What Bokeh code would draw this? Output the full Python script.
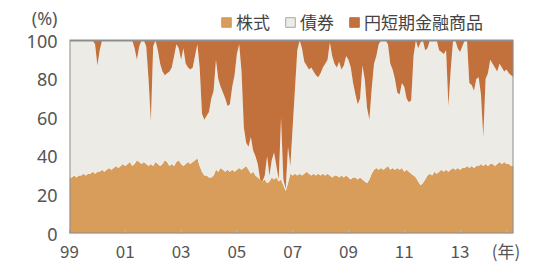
from bokeh.plotting import figure
from bokeh.models import (ColumnDataSource, Range1d, FixedTicker, Legend,
                          LegendItem, BoxAnnotation)
from bokeh.embed import file_html
from bokeh.resources import INLINE

# Monthly shares (%), Jan 1999 - Dec 2014
start_year = 1999
n_months = 192

stocks = [
    29, 29, 30, 29, 30, 30, 31, 30, 31, 31, 32, 31,
    32, 32, 33, 32, 33, 34, 33, 34, 35, 34, 35, 36,
    35, 36, 37, 35, 36, 38, 37, 36, 37, 36, 35, 36,
    35, 37, 36, 35, 36, 38, 37, 35, 36, 35, 37, 38,
    36, 35, 36, 37, 36, 37, 38, 39, 35, 32, 30, 30,
    29, 29, 30, 33, 32, 34, 33, 32, 33, 32, 33, 32,
    33, 34, 33, 34, 35, 33, 31, 32, 30, 29, 28, 27,
    28, 26, 27, 29, 28, 29, 27, 28, 25, 22, 26, 31,
    30, 31, 30, 31, 30, 31, 32, 31, 30, 31, 30, 31,
    30, 31, 30, 31, 30, 29, 30, 30, 29, 30, 29, 30,
    29, 28, 29, 29, 28, 29, 28, 27, 26, 28, 31, 33,
    34, 33, 34, 33, 34, 35, 33, 34, 33, 34, 33, 34,
    32, 33, 32, 31, 30, 29, 27, 25, 26, 28, 30, 31,
    30, 32, 31, 32, 33, 32, 33, 32, 33, 34, 33, 34,
    33, 34, 34, 35, 34, 35, 34, 35, 35, 36, 35, 36,
    35, 36, 36, 35, 36, 37, 36, 37, 36, 36, 35, 35,
]

money = [
    0, 0, 0, 0, 0, 0, 0, 0, 0, 0, 0, 2,
    13, 5, 0, 0, 0, 0, 0, 0, 0, 0, 0, 0,
    0, 0, 0, 0, 4, 10, 3, 0, 0, 3, 20, 42,
    3, 0, 5, 12, 16, 18, 17, 16, 14, 8, 2, 4,
    10, 4, 12, 14, 15, 14, 8, 2, 14, 38, 41, 39,
    37, 30, 26, 10, 20, 24, 27, 30, 34, 33, 24, 18,
    7, 2, 16, 45, 53, 55, 50, 57, 60, 64, 72, 73,
    70, 60, 70, 62, 58, 65, 72, 40, 72, 77, 55, 65,
    45, 25, 5, 0, 4, 11, 13, 15, 14, 16, 18, 19,
    17, 14, 12, 10, 1, 8, 12, 14, 11, 15, 13, 8,
    10, 14, 22, 28, 33, 30, 13, 20, 35, 41, 25, 12,
    8, 2, 0, 0, 0, 2, 12, 15, 20, 27, 28, 22,
    24, 30, 32, 31, 8, 0, 4, 1, 0, 5, 4, 0,
    0, 0, 0, 5, 6, 7, 5, 34, 15, 0, 0, 4,
    6, 3, 0, 0, 22, 23, 26, 20, 19, 28, 50, 20,
    17, 10, 12, 14, 16, 12, 14, 16, 15, 17, 18, 19,
]

series_names = ["株式", "債券", "円短期金融商品"]
series_colors = ["#D89C5B", "#ECEBE5", "#C2703C"]
legend_edges = ["#D89C5B", "#A8A8A0", "#C2703C"]

tick_years = [1999, 2001, 2003, 2005, 2007, 2009, 2011, 2013]
tick_labels = ["99", "01", "03", "05", "07", "09", "11", "13"]
unit_x_label = "(年)"
unit_y_label = "(%)"
y_ticks = [0, 20, 40, 60, 80, 100]
y_max = 100

assert len(stocks) == n_months and len(money) == n_months

x = [start_year + i / 12 for i in range(n_months)]
bonds = [max(0, 100 - s - m) for s, m in zip(stocks, money)]
source = ColumnDataSource(dict(x=x, stocks=stocks, bonds=bonds, money=money))

num_font = "Noto Sans"
jp_font = "Noto Sans CJK JP"
text_col = "#555555"
frame_col = "#8e8e8e"

px_per_unit = 1.93          # vertical scale of the plot area
frame_h = 225               # plot area incl. a header band for legend
y_top = frame_h / px_per_unit

p = figure(
    frame_width=444, frame_height=frame_h,
    min_border_left=69, min_border_right=27, min_border_top=8, min_border_bottom=27,
    x_range=Range1d(start_year, x[-1]), y_range=Range1d(0, y_top),
    output_backend="svg", toolbar_location=None,
)
p.background_fill_color = "#ffffff"
p.border_fill_color = "#ffffff"
p.outline_line_color = None
p.xgrid.visible = False
p.ygrid.visible = False

areas = p.varea_stack(stackers=["stocks", "bonds", "money"], x="x",
                      color=series_colors, source=source)

# frame border around the 0-100 area
p.add_layout(BoxAnnotation(bottom=0, top=y_max, fill_alpha=0, fill_color=None,
                           line_color=frame_col, line_width=2, line_alpha=1.0))

# x axis
unit_tick = 2014.65
p.xaxis.ticker = FixedTicker(ticks=tick_years + [unit_tick])
overrides = {yr: lab for yr, lab in zip(tick_years, tick_labels)}
overrides[unit_tick] = unit_x_label
p.xaxis.major_label_overrides = overrides
p.xaxis.major_label_text_font = jp_font
p.xaxis.major_label_text_font_size = "17px"
p.xaxis.major_label_text_color = text_col
p.xaxis.major_label_standoff = 4
p.xaxis.major_tick_in = 4
p.xaxis.major_tick_out = 0
p.xaxis.major_tick_line_color = "#c8b49a"
p.xaxis.minor_tick_line_color = None
p.xaxis.axis_line_color = None

# y axis (the unit label sits as an extra tick label above 100)
unit_y_pos = 111.4
p.yaxis.ticker = FixedTicker(ticks=y_ticks + [unit_y_pos])
p.yaxis.major_label_overrides = {unit_y_pos: unit_y_label}
p.yaxis.major_label_text_font = num_font
p.yaxis.major_label_text_font_size = "18px"
p.yaxis.major_label_text_color = text_col
p.yaxis.major_label_standoff = 6
p.yaxis.major_tick_line_color = None
p.yaxis.minor_tick_line_color = None
p.yaxis.axis_line_color = None

# legend swatches (renderers with one NaN point: used only for legend glyphs)
nan = float("nan")
items = []
for name, fc, lc in zip(series_names, series_colors, legend_edges):
    r = p.quad(left=[nan], right=[nan], top=[nan], bottom=[nan],
               fill_color=fc, line_color=lc, line_width=1)
    items.append(LegendItem(label=name, renderers=[r]))

lg = Legend(items=items, orientation="horizontal", location=(151, 198))
lg.background_fill_alpha = 0
lg.border_line_color = None
lg.padding = 0
lg.margin = 0
lg.spacing = 14
lg.glyph_width = 12
lg.glyph_height = 12
lg.label_height = 27
lg.label_standoff = 4
lg.label_text_font = jp_font
lg.label_text_font_size = "17px"
lg.label_text_color = "#444444"
p.add_layout(lg)

open("out.html", "w").write(file_html(p, INLINE))
